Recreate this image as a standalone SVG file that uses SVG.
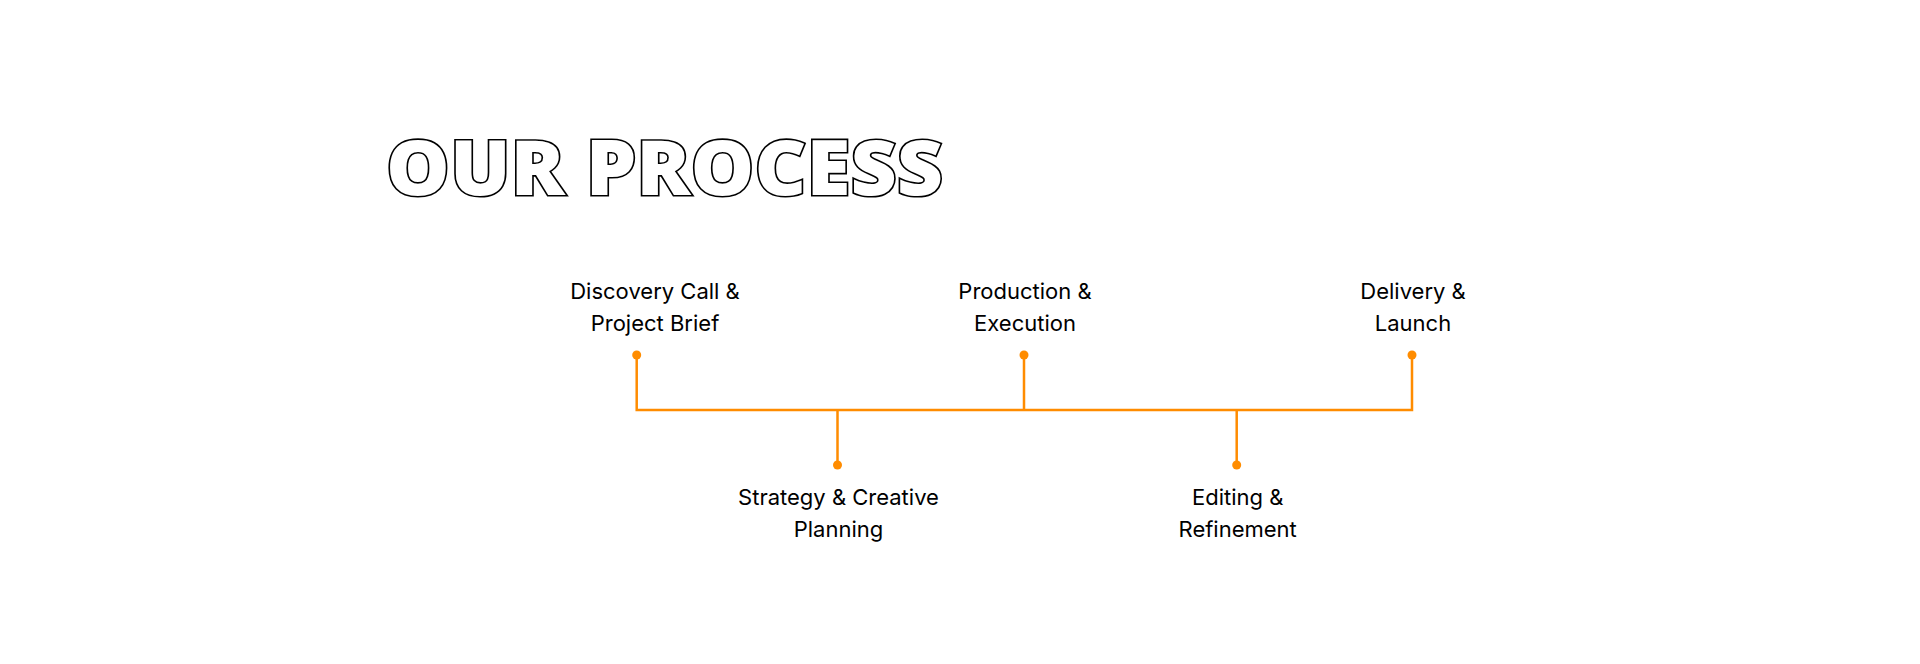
<svg xmlns="http://www.w3.org/2000/svg" width="1920" height="664" viewBox="0 0 1920 664">
<style>
.title{font-family:"Open Sans","Noto Sans",sans-serif;font-weight:800;font-size:76px;fill:#fff;stroke:#000;stroke-width:3.2;paint-order:stroke}
.lbl{font-family:Inter,"Noto Sans",sans-serif;font-size:22px;fill:#000;text-anchor:middle}
.ln{stroke:#FF8C00;stroke-width:2.5;fill:none}
.dot{fill:#FF8C00}
</style>
<rect width="1920" height="664" fill="#fff"/>
<text class="title" x="386" y="195" textLength="557" lengthAdjust="spacingAndGlyphs">OUR PROCESS</text>
<g id="connectors">
<path class="ln" d="M636.7 355V410H1412V355M1024 355V410M837.5 410V465M1236.7 410V465"/>
</g>
<g id="n1"><circle class="dot" cx="636.7" cy="355" r="4.5"/><text class="lbl" x="655" y="299">Discovery Call &amp;</text><text class="lbl" x="655" y="331">Project Brief</text></g>
<g id="n2"><circle class="dot" cx="837.5" cy="465" r="4.5"/><text class="lbl" x="838.5" y="505">Strategy &amp; Creative</text><text class="lbl" x="838.5" y="537">Planning</text></g>
<g id="n3"><circle class="dot" cx="1024" cy="355" r="4.5"/><text class="lbl" x="1025" y="299">Production &amp;</text><text class="lbl" x="1025" y="331">Execution</text></g>
<g id="n4"><circle class="dot" cx="1236.7" cy="465" r="4.5"/><text class="lbl" x="1237.7" y="505">Editing &amp;</text><text class="lbl" x="1237.7" y="537">Refinement</text></g>
<g id="n5"><circle class="dot" cx="1412" cy="355" r="4.5"/><text class="lbl" x="1413" y="299">Delivery &amp;</text><text class="lbl" x="1413" y="331">Launch</text></g>
</svg>
